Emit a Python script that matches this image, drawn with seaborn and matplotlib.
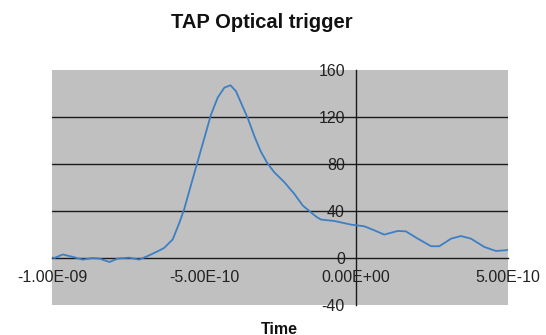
import matplotlib
matplotlib.use("Agg")
import matplotlib.pyplot as plt
import seaborn as sns
import pandas as pd
import numpy as np

# time in units of 1e-10 s
time_e10 = [-10.0, -9.92, -9.65, -9.32, -8.99, -8.66, -8.44, -8.11, -7.84, -7.46, -7.13,
            -6.8, -6.5, -6.31, -6.03, -5.81, -5.65, -5.43, -5.21, -4.99, -4.77, -4.55,
            -4.33, -4.13, -3.95, -3.73, -3.56, -3.34, -3.13, -2.91, -2.69, -2.36, -2.03,
            -1.75, -1.48, -1.3, -1.15, -0.71, -0.16, 0.27, 0.6, 0.93, 1.37, 1.64, 2.03,
            2.47, 2.74, 3.13, 3.45, 3.78, 4.22, 4.6, 4.93, 5.0]
signal = [0.5, 0, 3, 1, -1.4, 0, -0.5, -3.4, -0.5, 0.3, -1.4,
          2.3, 6, 8.6, 15.8, 30, 41.7, 62, 82, 102, 122, 136.5,
          145, 147, 142, 129, 119, 103.5, 90.5, 80.5, 73, 64.6, 54.6,
          44.6, 38.8, 35, 32.7, 31.5, 28.4, 27, 23.6, 19.9, 23, 22.7, 16.5,
          10, 10, 16.5, 18.7, 16.5, 9.4, 6, 6.6, 7]

x_ticks = [-1e-9, -5e-10, 0.0, 5e-10]
x_tick_labels = ["-1.00E-09", "-5.00E-10", "0.00E+00", "5.00E-10"]
y_ticks = [-40, 0, 40, 80, 120, 160]
y_tick_labels = ["-40", "0", "40", "80", "120", "160"]

title = "TAP Optical trigger"
xlabel = "Time"

sns.set_style("white")
plt.rcParams['font.family'] = ['Liberation Sans', 'DejaVu Sans']

df = pd.DataFrame({"t": np.array(time_e10) * 1e-10, "v": signal})

fig = plt.figure(figsize=(5.46, 3.35), dpi=100)
ax = fig.add_axes([52/546, 1-305/335, (508-52)/546, (305-70)/335])
ax.set_facecolor("#c0c0c0")

sns.lineplot(data=df, x="t", y="v", ax=ax, color="#3d7fc4", linewidth=1.3, zorder=3)

ax.set_xlim(-1e-9, 5e-10)
ax.set_ylim(-40, 160)

for g in [40, 80, 120]:
    ax.axhline(g, color="#1a1a1a", linewidth=1.0, zorder=1)

ax.spines['top'].set_visible(False)
ax.spines['right'].set_visible(False)
ax.spines['bottom'].set_position(('data', 0))
ax.spines['left'].set_position(('data', 0))
for s in ['bottom', 'left']:
    ax.spines[s].set_color("#1a1a1a")
    ax.spines[s].set_linewidth(1.0)
    ax.spines[s].set_zorder(2)

ax.set_xticks(x_ticks)
ax.set_xticklabels(x_tick_labels)
ax.set_yticks(y_ticks)
ax.set_yticklabels(y_tick_labels)
ax.tick_params(axis='x', direction='out', length=3, width=1, color="#1a1a1a",
               pad=6, labelsize=11.5, labelcolor="#222222")
ax.tick_params(axis='y', direction='out', length=3, width=1, color="#1a1a1a",
               pad=5, labelsize=11.5, labelcolor="#222222")
ax.set_xlabel("")
ax.set_ylabel("")

fig.text(262/546, 1-22/335, title, ha='center', va='center', fontsize=14.5,
         fontweight='bold', color="#111111")
fig.text(279/546, 1-329/335, xlabel, ha='center', va='center', fontsize=11.5,
         fontweight='bold', color="#111111")

fig.savefig("out.png", dpi=100)
